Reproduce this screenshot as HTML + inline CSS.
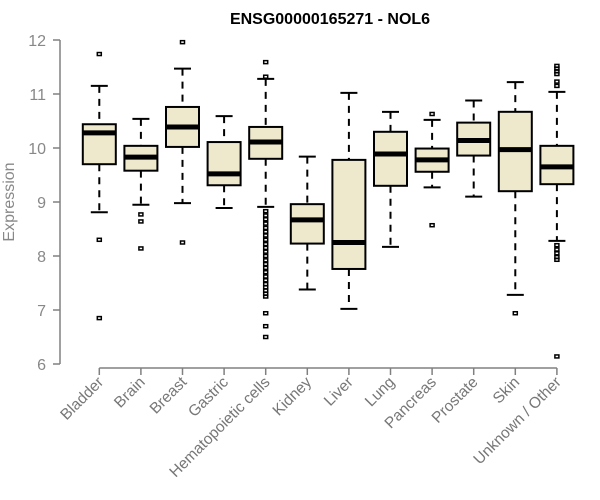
<!DOCTYPE html>
<html><head><meta charset="utf-8"><style>
body{margin:0;background:#fff;}
svg{display:block;font-family:"Liberation Sans",sans-serif;}
</style></head><body>
<svg id="chart" width="600" height="500" viewBox="0 0 600 500">
<text x="330" y="24" text-anchor="middle" font-size="16" font-weight="bold">ENSG00000165271 - NOL6</text>
<text transform="translate(14,202) rotate(-90)" text-anchor="middle" font-size="16" fill="#888">Expression</text>
<g id="axes"></g><g id="boxes"></g>
</svg>
<script>
const categories=["Bladder","Brain","Breast","Gastric","Hematopoietic cells","Kidney","Liver","Lung","Pancreas","Prostate","Skin","Unknown / Other"];
const whiskLow=[8.81,8.95,8.98,8.89,8.91,7.38,7.02,8.17,9.27,9.10,7.28,8.28];
const q1=[9.70,9.58,10.02,9.31,9.80,8.23,7.76,9.30,9.56,9.86,9.20,9.33];
const medians=[10.28,9.83,10.39,9.52,10.11,8.67,8.25,9.89,9.78,10.14,9.97,9.65];
const q3=[10.44,10.04,10.76,10.11,10.39,8.96,9.78,10.30,9.99,10.47,10.67,10.04];
const whiskHigh=[11.15,10.54,11.47,10.59,11.28,9.84,11.02,10.67,10.52,10.88,11.22,11.04];
const outliers=[[11.74,8.30,6.85],[8.77,8.64,8.14],[11.96,8.25],[],
[11.59,11.32,8.83,8.75,8.68,8.6,8.52,8.45,8.38,8.3,8.22,8.15,8.08,8.0,7.92,7.85,7.78,7.7,7.62,7.55,7.48,7.42,7.36,7.3,7.25,6.94,6.70,6.50],
[],[],[],[10.63,8.57],[],[6.94],[11.52,11.47,11.42,11.37,11.23,11.15,8.2,8.12,8.05,7.98,7.93,6.14]];
const yTicks=[6,7,8,9,10,11,12];
const NS="http://www.w3.org/2000/svg";
const y=v=>40+(12-v)*54;
const x=i=>99.3+i*41.6;
const hw=16.5, cap=8.5;
function mk(tag,attrs,parent){const e=document.createElementNS(NS,tag);for(const k in attrs)e.setAttribute(k,attrs[k]);parent.appendChild(e);return e;}
const ax=document.getElementById('axes'), bx=document.getElementById('boxes');
let l=mk('line',{x1:60,x2:60,y1:y(12),y2:y(6),stroke:'#808080','stroke-width':1.5},ax);


yTicks.forEach(t=>{
 let tk=mk('line',{x1:53,x2:60,y1:y(t),y2:y(t),stroke:'#808080','stroke-width':1.5},ax);
 
 
 let tx=mk('text',{x:46,y:y(t)+6,'text-anchor':'end','font-size':16,fill:'#888'},ax);
 
 
 tx.textContent=t;
});
l=mk('line',{x1:x(0),x2:x(categories.length-1),y1:368,y2:368,stroke:'#808080','stroke-width':1.5},ax);


categories.forEach((c,i)=>{
 let tk=mk('line',{x1:x(i),x2:x(i),y1:368,y2:375,stroke:'#808080','stroke-width':1.5},ax);
 
 
 let tx=mk('text',{transform:`translate(${x(i)+5},383) rotate(-45)`,'text-anchor':'end','font-size':15.5,fill:'#777'},ax);
 
 
 tx.textContent=c;
 const g=mk('g',{},bx);
 
 
 const cx=x(i);
 mk('line',{x1:cx,x2:cx,y1:y(whiskHigh[i]),y2:y(q3[i]),stroke:'#000','stroke-width':2,'stroke-dasharray':'7,6'},g);
 mk('line',{x1:cx,x2:cx,y1:y(q1[i]),y2:y(whiskLow[i]),stroke:'#000','stroke-width':2,'stroke-dasharray':'7,6'},g);
 mk('line',{x1:cx-cap,x2:cx+cap,y1:y(whiskHigh[i]),y2:y(whiskHigh[i]),stroke:'#000','stroke-width':2},g);
 mk('line',{x1:cx-cap,x2:cx+cap,y1:y(whiskLow[i]),y2:y(whiskLow[i]),stroke:'#000','stroke-width':2},g);
 mk('rect',{x:cx-hw,y:y(q3[i]),width:2*hw,height:y(q1[i])-y(q3[i]),fill:'#EEE8CD',stroke:'#000','stroke-width':2},g);
 mk('line',{x1:cx-hw,x2:cx+hw,y1:y(medians[i]),y2:y(medians[i]),stroke:'#000','stroke-width':5},g);
 outliers[i].forEach(v=>{
  const o=mk('rect',{x:cx-2,y:y(v)-1.5,width:4,height:3,fill:'none',stroke:'#000','stroke-width':1.5},g);
  
  
 });
});
</script>
</body></html>
